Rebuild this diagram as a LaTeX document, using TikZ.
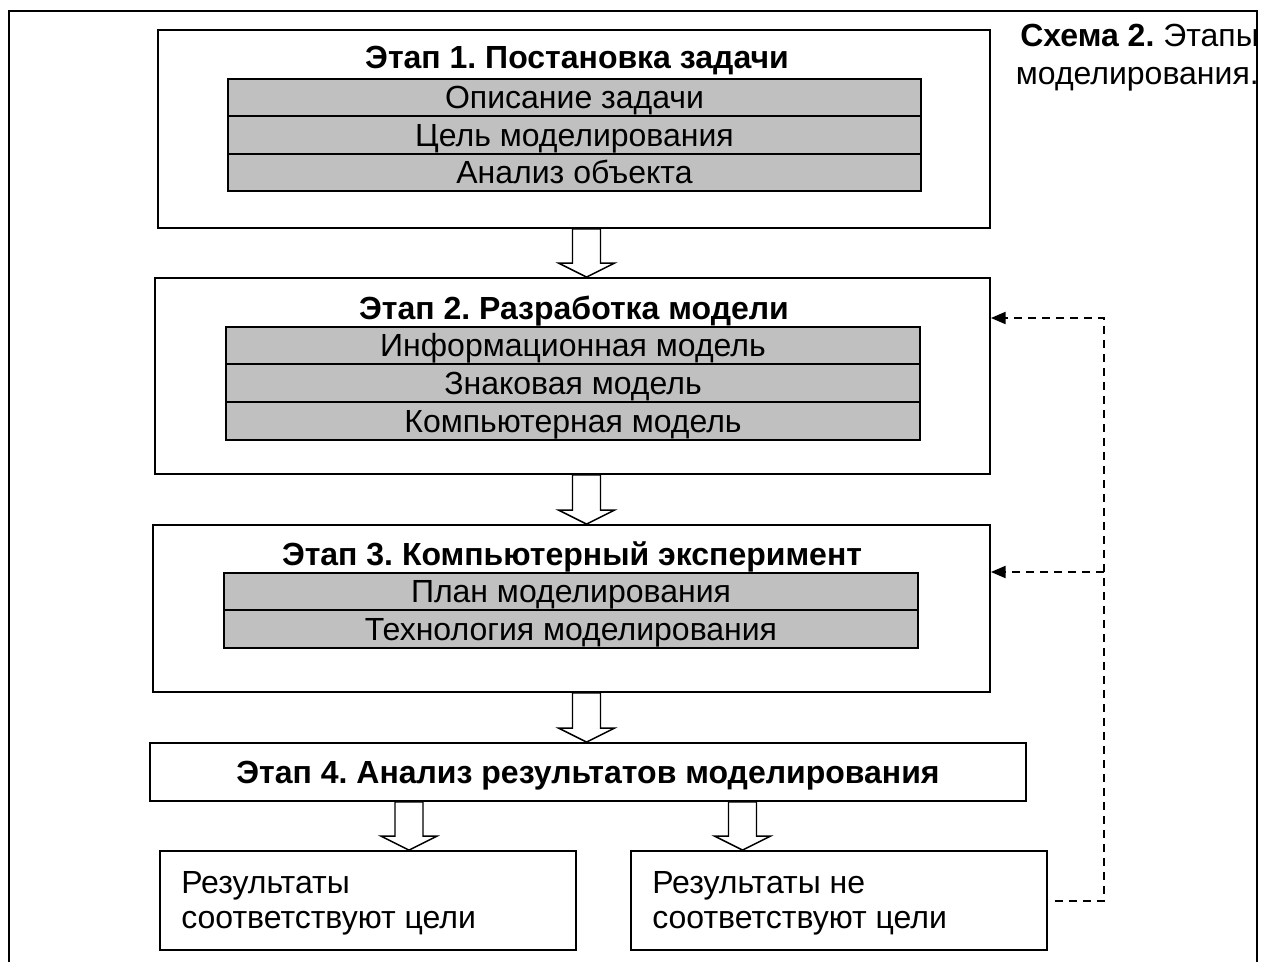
\documentclass[tikz,border=0pt]{standalone}
\usepackage{fontspec}
\setmainfont{Liberation Sans}
\frenchspacing
\usetikzlibrary{calc,arrows.meta}
\definecolor{bargray}{HTML}{C0C0C0}
\tikzset{
  stagebox/.style={draw,line width=1.4pt,fill=white,inner sep=0pt},
  bar/.style={draw,line width=1.4pt,fill=bargray,inner sep=0pt,minimum height=28pt,
    text height=17.2pt,text depth=0pt,font=\fontsize{24}{28}\selectfont},
  title/.style={inner sep=0pt,text height=17.2pt,text depth=0pt,font=\bfseries\fontsize{24}{28}\selectfont},
  fatarr/.style={draw,line width=1.1pt,fill=white,line join=miter},
  fb/.style={draw,line width=1.5pt,dash pattern=on 6pt off 4.5pt,-{Triangle[length=11pt,width=9pt]}},
}
\newcommand{\fatdown}[3]{%
  \draw[fatarr] let \p0=(#1,0), \p1=(#2.south), \p2=(#3.north) in
    (\x0-10.5pt,\y1) -- (\x0-10.5pt,\y2+10.5pt) -- (\x0-21pt,\y2+10.5pt) -- (\x0,\y2)
    -- (\x0+21pt,\y2+10.5pt) -- (\x0+10.5pt,\y2+10.5pt) -- (\x0+10.5pt,\y1) -- cycle;}
\begin{document}
\begin{tikzpicture}[x=0.75pt,y=-0.75pt]
\useasboundingbox (0,0) rectangle (1266,962);
% outer frame
\draw[line width=1.5pt] (9,962) -- (9,11) -- (1257,11) -- (1257,962);
% caption
\node[anchor=base east,inner sep=0pt,font=\fontsize{24}{28.5}\selectfont] (cap) at (1259,47)
  {\begin{tabular}[t]{@{}r@{}}\textbf{Схема 2.} Этапы\\моделирования.\end{tabular}};

% Stage 1
\node[stagebox,minimum width=624pt,minimum height=148.5pt] (s1) at (574,129) {};
\node[title] (t1) at (577,57.5) {Этап 1. Постановка задачи};
\node[bar,minimum width=519.75pt] (s1a) at (574.5,97.5) {Описание задачи};
\node[bar,minimum width=519.75pt] (s1b) at (574.5,135) {Цель моделирования};
\node[bar,minimum width=519.75pt] (s1c) at (574.5,172.5) {Анализ объекта};

% Stage 2
\node[stagebox,minimum width=626.25pt,minimum height=147pt] (s2) at (572.5,376) {};
\node[title] (t2) at (574,308) {Этап 2. Разработка модели};
\node[bar,minimum width=520.5pt] (s2a) at (573,345.5) {Информационная модель};
\node[bar,minimum width=520.5pt] (s2b) at (573,383) {Знаковая модель};
\node[bar,minimum width=520.5pt] (s2c) at (573,421) {Компьютерная модель};

% Stage 3
\node[stagebox,minimum width=627.75pt,minimum height=125.25pt] (s3) at (571.5,608.5) {};
\node[title] (t3) at (572,554) {Этап 3. Компьютерный эксперимент};
\node[bar,minimum width=520.5pt] (s3a) at (571,591.5) {План моделирования};
\node[bar,minimum width=520.5pt] (s3b) at (571,629) {Технология моделирования};

% Stage 4
\node[stagebox,minimum width=657pt,minimum height=43.5pt,title] (s4) at (588,772)
  {Этап 4. Анализ результатов моделирования};

% results
\node[stagebox,minimum width=312pt,minimum height=74.25pt] (r1) at (368,900.5) {};
\node[stagebox,minimum width=312pt,minimum height=74.25pt] (r2) at (839,900.5) {};
\node[anchor=base west,inner sep=0pt,font=\fontsize{24}{26.25}\selectfont] (r1t) at (181,893)
  {\begin{tabular}[t]{@{}l@{}}Результаты\\соответствуют цели\end{tabular}};
\node[anchor=base west,inner sep=0pt,font=\fontsize{24}{26.25}\selectfont] (r2t) at (652,893)
  {\begin{tabular}[t]{@{}l@{}}Результаты не\\соответствуют цели\end{tabular}};

% fat arrows
\fatdown{586.5}{s1}{s2}
\fatdown{586.5}{s2}{s3}
\fatdown{586.5}{s3}{s4}
\fatdown{409}{s4}{r1}
\fatdown{742.5}{s4}{r2}

% feedback
\coordinate (fx) at (1104,0);
\coordinate (c1) at ($(r2.east)+(7,0)$);
\draw[fb] (c1) -- (c1 -| fx) -- (fx |- 0,318) -- (s2.east |- 0,318);
\draw[fb] (fx |- 0,572) -- (s3.east |- 0,572);
\end{tikzpicture}
\end{document}
